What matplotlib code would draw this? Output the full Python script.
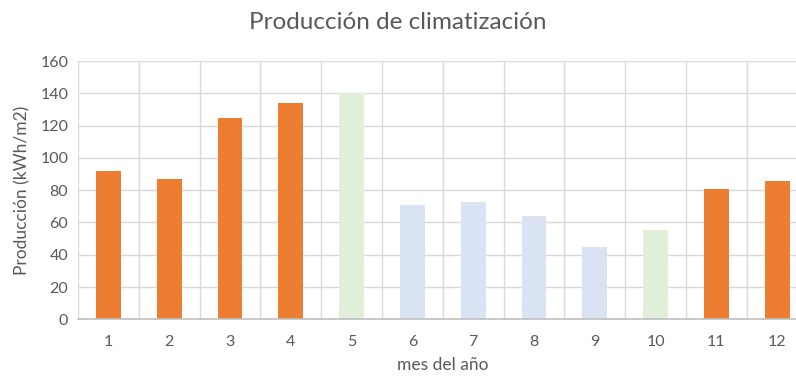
import matplotlib
matplotlib.use('Agg')
import matplotlib.pyplot as plt
import numpy as np

plt.rcParams.update({'font.family': ['Lato', 'DejaVu Sans']})

# producción mensual de climatización (kWh/m2)
meses = [1, 2, 3, 4, 5, 6, 7, 8, 9, 10, 11, 12]
produccion = [92, 87, 125, 134, 140, 71, 72.5, 64, 44.5, 55.5, 80.5, 85.5]
modo = ['cal', 'cal', 'cal', 'cal', 'trans', 'ref', 'ref', 'ref', 'ref', 'trans', 'cal', 'cal']

C_CAL = '#ED7D31'    # calefacción
C_TRANS = '#E2EFDA'  # transición
C_REF = '#DAE3F3'    # refrigeración
C_TXT = '#595959'
C_GRID = '#D9D9D9'
colores = {'cal': C_CAL, 'trans': C_TRANS, 'ref': C_REF}

fig = plt.figure(figsize=(7.96, 3.78), dpi=100)
ax = fig.add_axes([0.098, 0.1553, 0.9166, 0.6833])

x = np.arange(len(meses))
ax.bar(x, produccion, width=0.41, color=[colores[m] for m in modo], zorder=3)

ax.set_xlim(-0.5, len(meses) - 0.5)
ax.set_ylim(0, 160)
ax.set_yticks(np.arange(0, 161, 20))
ax.set_xticks(x)
ax.set_xticklabels([str(m) for m in meses])

# rejilla: horizontales cada 20, verticales entre categorías
for yv in np.arange(20, 161, 20):
    ax.axhline(yv, color=C_GRID, lw=1.0, zorder=1)
for xv in np.arange(0.5, len(meses) - 0.5, 1):
    ax.axvline(xv, color=C_GRID, lw=1.0, zorder=1)
ax.axvline(-0.5, color=C_GRID, lw=1.0, zorder=1)

for s in ['top', 'right', 'left']:
    ax.spines[s].set_visible(False)
ax.spines['bottom'].set_color('#BFBFBF')
ax.spines['bottom'].set_linewidth(1.2)
ax.spines['bottom'].set_zorder(4)

ax.tick_params(axis='both', length=0, colors=C_TXT, labelsize=11.5)
ax.tick_params(axis='y', pad=7)
ax.tick_params(axis='x', pad=11)

ax.set_ylabel('Producción (kWh/m2)', fontsize=12.5, color=C_TXT, labelpad=7)
ax.set_xlabel('mes del año', fontsize=12.5, color=C_TXT, labelpad=6)
fig.text(0.5, 0.94, 'Producción de climatización', ha='center', va='center',
         fontsize=17.5, color=C_TXT)

fig.savefig('out.png', dpi=100)
